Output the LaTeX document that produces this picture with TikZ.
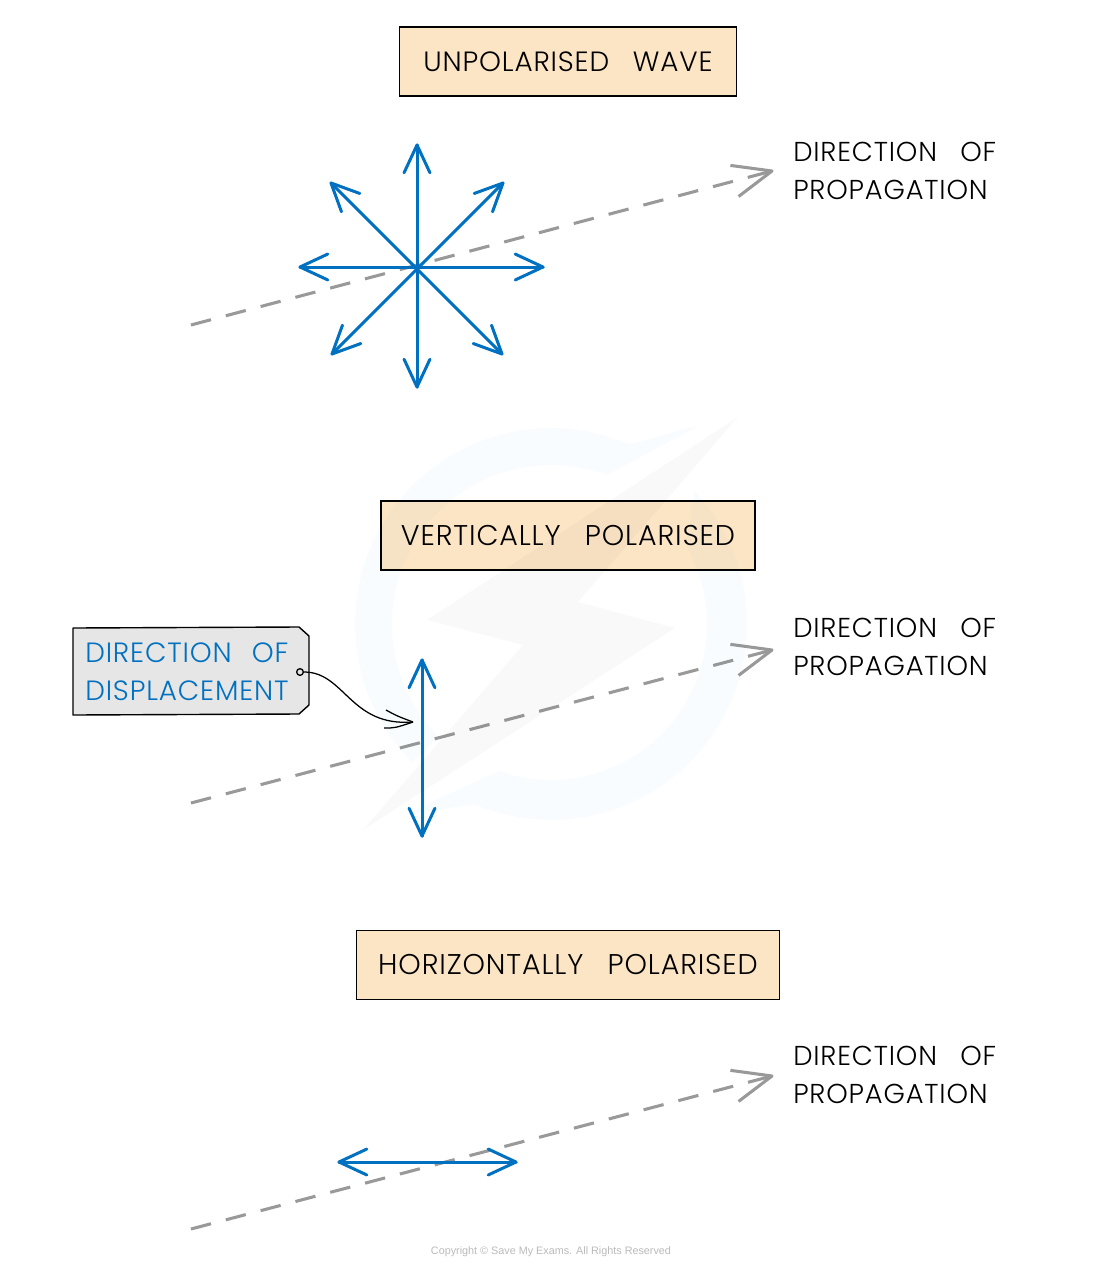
\documentclass[tikz,border=0pt]{standalone}
\usepackage{fontspec}
\setmainfont{Poppins}[UprightFont=* Light,LetterSpace=3]
\newfontfamily\copyfont{Liberation Sans}
\usetikzlibrary{calc}
\definecolor{boxfill}{HTML}{FCE5C5}
\definecolor{tagfill}{HTML}{E6E6E6}
\definecolor{waveblue}{HTML}{0070C0}
\definecolor{propgrey}{HTML}{999999}
\newcommand{\wgap}{\hspace{0.85em}}
\newcommand{\wavearrow}[2]{%
  \draw[wave] (#1) -- (#2);
  \draw[wave,line join=round] ($(#1)!23pt!25:(#2)$) -- (#1) -- ($(#1)!23pt!-25:(#2)$);
  \draw[wave,line join=round] ($(#2)!23pt!25:(#1)$) -- (#2) -- ($(#2)!23pt!-25:(#1)$);}
\newcommand{\propline}[2]{%
  \draw[prop,dash pattern=on 15.5pt off 11.5pt] (#1) -- ($(#2)!2pt!(#1)$);
  \draw[prop,line join=round] ($(#2)!31.5pt!22.5:(#1)$) -- (#2) -- ($(#2)!31.5pt!-22.5:(#1)$);}
\tikzset{
  x=0.75pt,y=-0.75pt,
  title/.style={draw=black,line width=1.05pt,fill=boxfill,minimum height=51.5pt,inner sep=0pt,font=\fontsize{20.9}{24}\selectfont},
  widetitle/.style={title,font=\fontsize{21.4}{24}\selectfont},
  lab/.style={anchor=north west,inner sep=0pt,align=left,font=\fontsize{20.5}{28.5}\selectfont},
  taglab/.style={lab,text=waveblue,font=\fontsize{20.9}{28.5}\selectfont},
  wave/.style={draw=waveblue,line width=2.25pt,line cap=round},
  prop/.style={draw=propgrey,line width=2.3pt},
}
\begin{document}
\begin{tikzpicture}
\useasboundingbox (0,0) rectangle (1100,1271);
% propagation lines
\coordinate (p1s) at (191,325); \coordinate (p1e) at (772,171);
\coordinate (p2s) at (191,803); \coordinate (p2e) at (772,650);
\coordinate (p3s) at (191,1229); \coordinate (p3e) at (772,1076);
\propline{p1s}{p1e}
\propline{p2s}{p2e}
\propline{p3s}{p3e}
% titles
\node[title,minimum width=252.5pt] (t1) at (568,61.5) {UNPOLARISED\wgap WAVE};
\node[widetitle,minimum width=280.5pt] (t2) at (568,535.5) {VERTICALLY\wgap POLARISED};
\node[widetitle,minimum width=317pt] (t3) at (568,965) {HORIZONTALLY\wgap POLARISED};
% side labels
\node[lab] (l1) at (793,142) {DIRECTION\wgap OF\\PROPAGATION};
\node[lab] (l2) at (793,618) {DIRECTION\wgap OF\\PROPAGATION};
\node[lab] (l3) at (793,1046) {DIRECTION\wgap OF\\PROPAGATION};
% star
\coordinate (N) at (417,145); \coordinate (S) at (417,387);
\coordinate (E) at (543,267); \coordinate (W) at (300,267);
\coordinate (NE) at (503,183); \coordinate (SW) at (332,354);
\coordinate (NW) at (331,183); \coordinate (SE) at (502,354);
\wavearrow{N}{S}
\wavearrow{W}{E}
\wavearrow{NE}{SW}
\wavearrow{NW}{SE}
% vertical & horizontal
\coordinate (vt) at (422,660); \coordinate (vb) at (422,836);
\wavearrow{vt}{vb}
\coordinate (hl) at (339,1162); \coordinate (hr) at (516,1162);
\wavearrow{hl}{hr}
% tag
\draw[line width=1.05pt,fill=tagfill,line join=round] (73,628) -- (299,627) -- (309,636) -- (309,705) -- (299,714) -- (73,715) -- cycle;
\node[taglab] (tag) at (85,643) {DIRECTION\hspace{0.72em}OF\\DISPLACEMENT};
\node[draw=black,circle,line width=1pt,minimum size=5pt,inner sep=0pt] (hole) at (300,672) {};
\coordinate (tip) at (413,722);
\coordinate (ba) at (386,710);
\coordinate (bb) at (384,728);
\draw[line width=0.95pt] (hole.east) .. controls (345,672) and (350,727) .. (tip);
\draw[line width=0.95pt] (ba) .. controls (397,716) .. (tip);
\draw[line width=0.95pt] (bb) .. controls (395,728) .. (tip);
% copyright
\node[text=black!27,font=\copyfont\fontsize{8.1}{10}\selectfont,inner sep=0pt] (copy) at (551,1252) {Copyright © Save My Exams. All Rights Reserved};
% watermark
\fill[waveblue,opacity=0.025] plot[domain=225:66.5,samples=50] ({551+196*cos(\x)},{624-196*sin(\x)}) -- (700,425) -- (607,475) -- plot[domain=69:225,samples=50] ({551+159*cos(\x)},{624-159*sin(\x)}) -- cycle;
\fill[waveblue,opacity=0.025] plot[domain=43:-113,samples=50] ({551+196*cos(\x)},{624-196*sin(\x)}) -- (403,815) -- (497,772) -- plot[domain=-110:30,samples=50] ({551+156*cos(\x)},{624-156*sin(\x)}) -- cycle;
\fill[black,opacity=0.025] (738,417) -- (427,620) -- (523,645) -- (363,830) -- (675,628) -- (578,602) -- cycle;
\end{tikzpicture}
\end{document}
